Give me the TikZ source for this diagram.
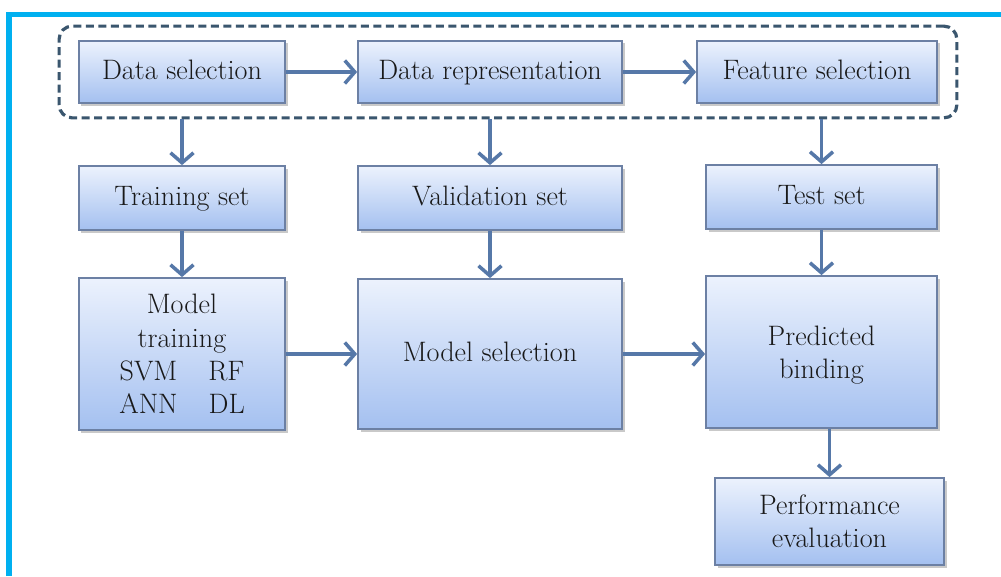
\documentclass[tikz,border=0pt]{standalone}
\usetikzlibrary{arrows.meta,positioning,fit,calc,shadows}
\definecolor{boxtop}{RGB}{236,242,253}
\definecolor{boxbot}{RGB}{164,192,240}
\definecolor{boxline}{RGB}{108,128,164}
\definecolor{flowblue}{RGB}{86,120,168}
\definecolor{groupline}{RGB}{58,86,110}
\definecolor{framecyan}{RGB}{0,176,240}

\begin{document}
\begin{tikzpicture}[x=0.2mm,y=0.2mm,font=\fontsize{16}{19}\selectfont,
  box/.style={draw=boxline,line width=1pt,top color=boxtop,bottom color=boxbot,align=center,text=black!90,inner sep=0pt,
    drop shadow={shadow xshift=0.5mm,shadow yshift=-0.5mm,opacity=0.35,fill=black!60}},
  oneline/.style={text height=1.02em,text depth=0.22em},
  flow/.style={draw=flowblue,line width=2pt,-{Straight Barb[length=2mm,width=4.6mm,line width=2pt]}},
  group/.style={draw=groupline,line width=1.8pt,dash pattern=on 1.6mm off 0.9mm,rounded corners=2.6mm,inner xsep=3.8mm,inner ysep=2.8mm}]
\useasboundingbox[fill=white] (0,0) rectangle (1001,576);
\draw[framecyan,line width=1.1mm] (9,0) -- (9,561.5) -- (1001,561.5);
% top row
\node[box,oneline,minimum width=41.2mm,minimum height=12.4mm] (dsel) at (182,504) {Data selection};
\node[box,oneline,minimum width=52.8mm,minimum height=12.4mm] (drep) at (490,504) {Data representation};
\node[box,oneline,minimum width=48mm,minimum height=12.4mm] (fsel) at (817,504) {Feature selection};
\node[group,fit=(dsel)(drep)(fsel)] (grp) {};
% data sets
\node[box,oneline,minimum width=41.2mm,minimum height=12.8mm] (train) at (182,378) {Training set};
\node[box,oneline,minimum width=52.8mm,minimum height=12.8mm] (valid) at (490,378) {Validation set};
\node[box,oneline,minimum width=46.2mm,minimum height=12.8mm] (test) at (821.5,379) {Test set};
% models
\node[box,minimum width=41.2mm,minimum height=30.4mm] (mtrain) at (182,222) {Model\\training\\SVM\hspace{1.1em}RF\\ANN\hspace{1.1em}DL};
\node[box,oneline,minimum width=52.8mm,minimum height=30mm] (msel) at (490,222) {Model selection};
\node[box,minimum width=46.2mm,minimum height=30.4mm] (pred) at (821.5,224) {\rule{0pt}{0.9em}Predicted\\binding};
\node[box,minimum width=45.8mm,minimum height=17.4mm] (perf) at (829.5,54.5) {Performance\\evaluation};
% arrows
\draw[flow] (dsel) -- (drep);
\draw[flow] (drep) -- (fsel);
\draw[flow] (train.north |- grp.south) -- (train.north);
\draw[flow] (valid.north |- grp.south) -- (valid.north);
\draw[flow] (test.north |- grp.south) -- (test.north);
\draw[flow] (train) -- (mtrain);
\draw[flow] (valid) -- (msel);
\draw[flow] (test) -- (pred);
\draw[flow] (mtrain) -- (msel);
\draw[flow] (msel) -- (msel -| pred.west);
\draw[flow] (perf.north |- pred.south) -- (perf.north);
\end{tikzpicture}
\end{document}
